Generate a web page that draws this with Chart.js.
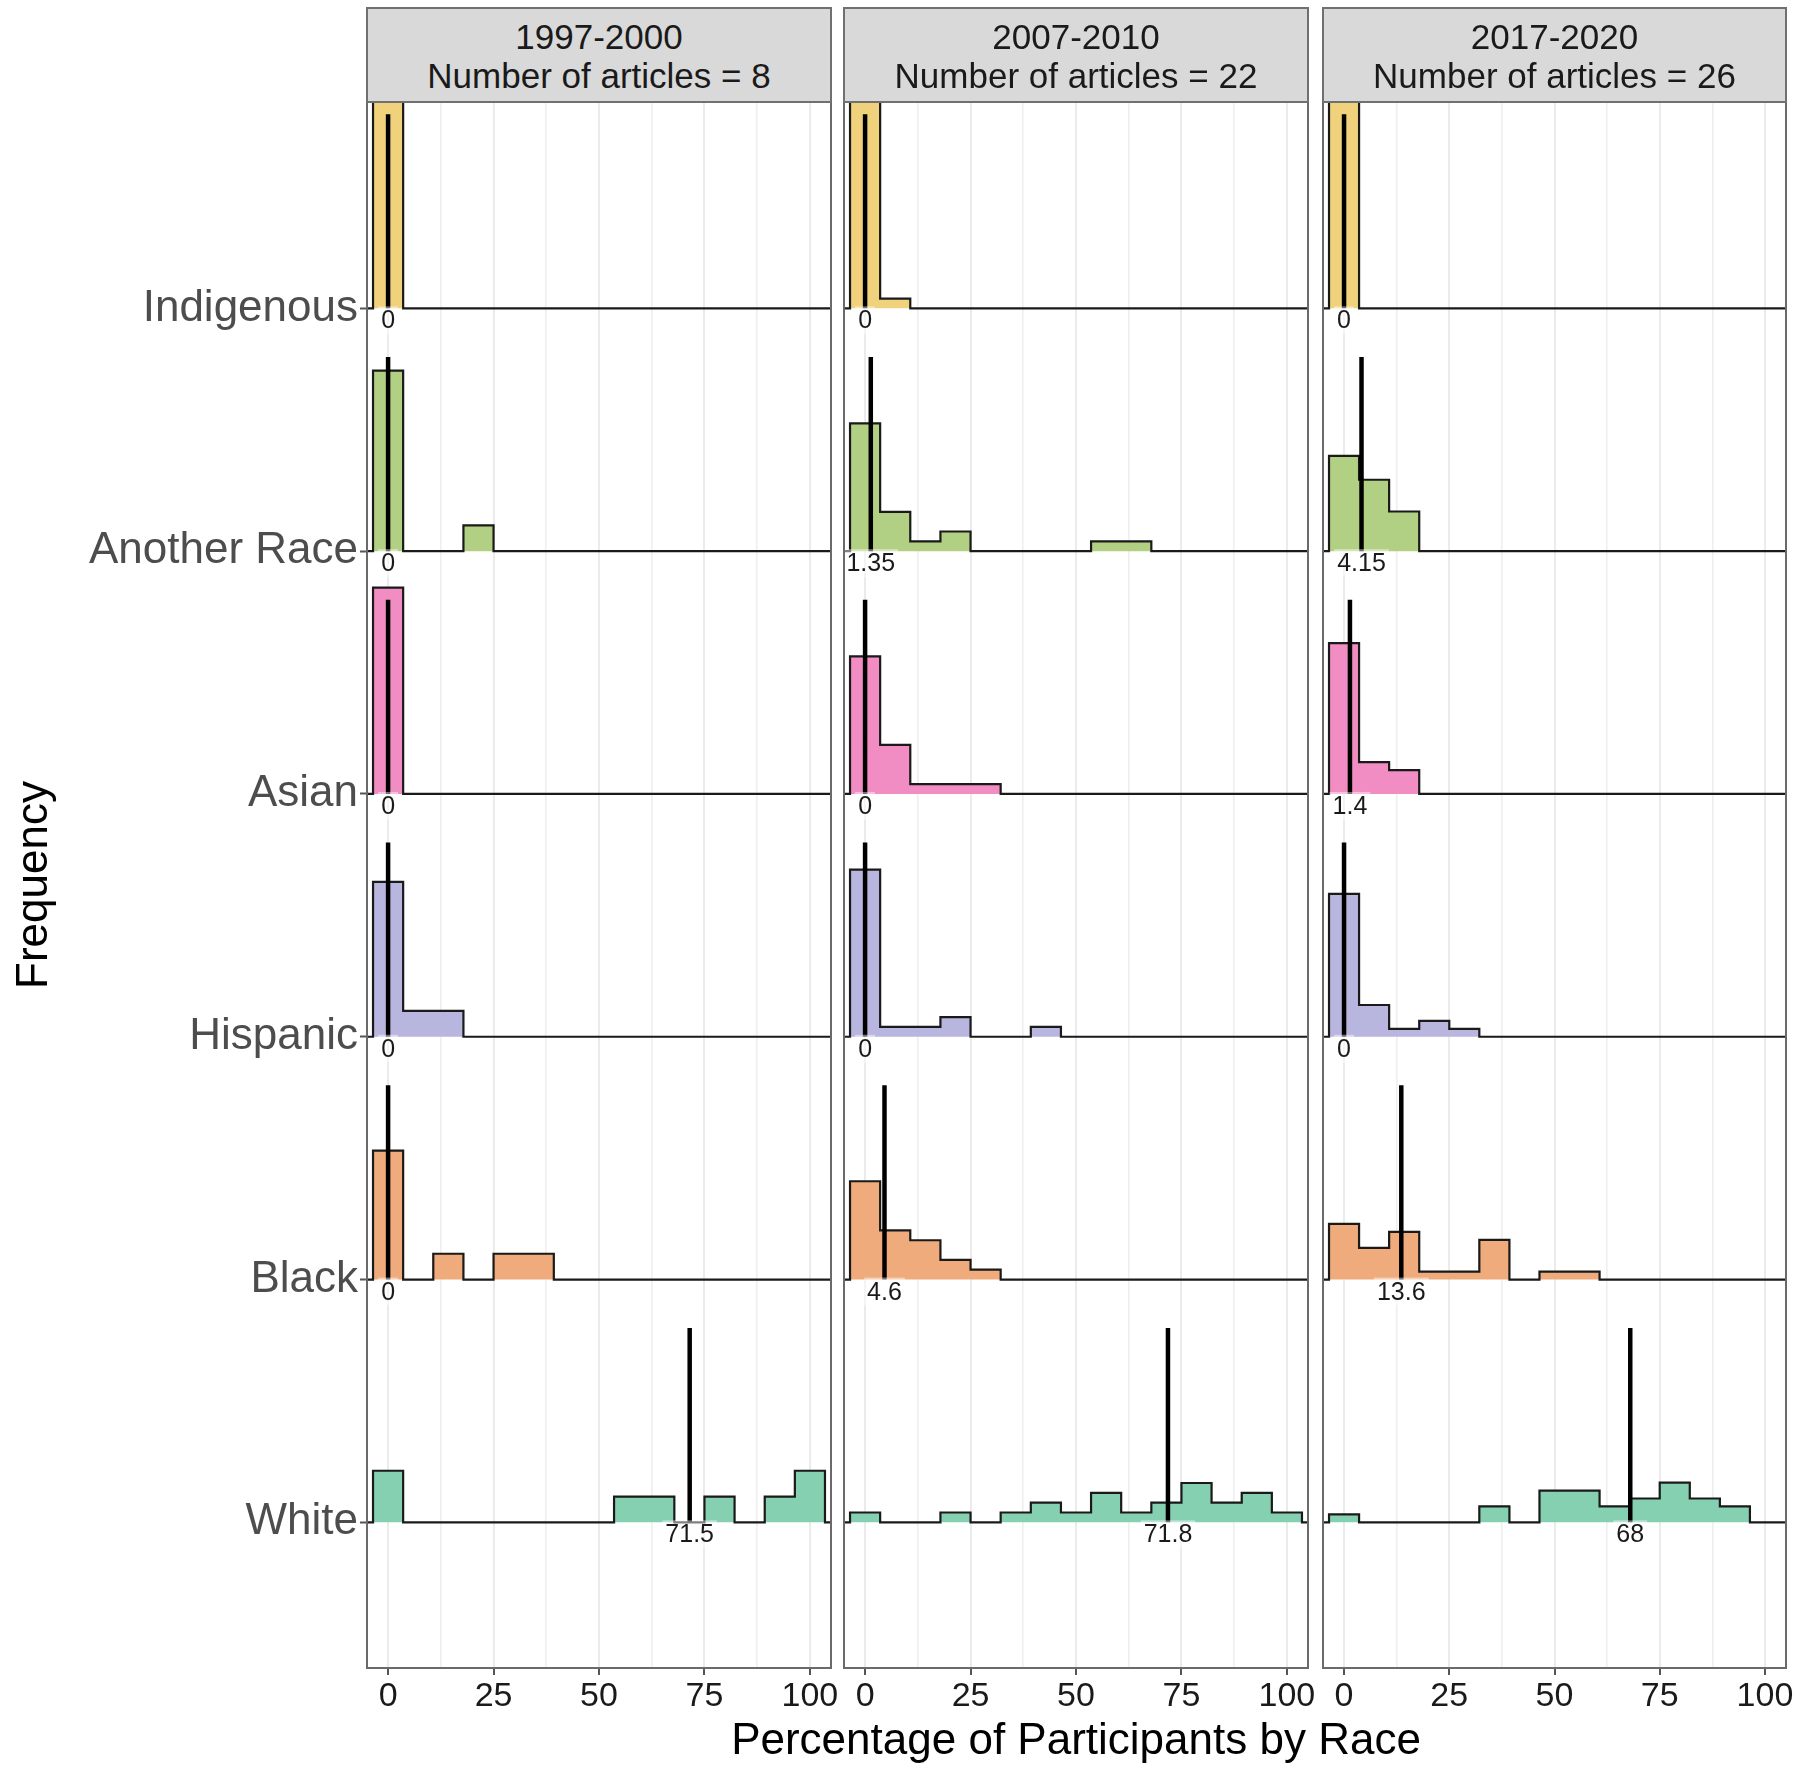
<!DOCTYPE html>
<html>
<head>
<meta charset="utf-8">
<script src="https://cdn.jsdelivr.net/npm/chart.js@4.4.1/dist/chart.umd.min.js"></script>
<style>
  html, body { margin: 0; padding: 0; background: #ffffff; }
  body { width: 1800px; height: 1772px; position: relative; overflow: hidden;
         font-family: "Liberation Sans", Arial, Helvetica, sans-serif; }
  canvas.cv { position: absolute; top: 90px; }
  .strip { position: absolute; top: 7px; height: 96px; box-sizing: border-box;
           border: 2px solid #707070; background: #d9d9d9; color: #1a1a1a;
           font-size: 35px; line-height: 39px; text-align: center; padding-top: 8px;
           white-space: nowrap; }
  #xtitle { position: absolute; top: 1713px; height: 52px; line-height: 52px; width: 1000px;
            font-size: 44px; color: #000000; text-align: center; white-space: nowrap; }
</style>
</head>
<body>
<canvas id="c0" class="cv" width="840" height="1682" style="left:0px"></canvas>
<canvas id="c1" class="cv" width="480" height="1682" style="left:835px"></canvas>
<canvas id="c2" class="cv" width="488" height="1682" style="left:1312px"></canvas>
<div id="xtitle"></div>
<script>
// ---------------- DATA ----------------
const periods = ["1997-2000", "2007-2010", "2017-2020"];
const articleCounts = [8, 22, 26];
// rows from bottom (y = 1) to top (y = 6)
const races = ["White", "Black", "Hispanic", "Asian", "Another Race", "Indigenous"];
const raceColors = ["#86d0b2", "#efab7b", "#b8b5df", "#f18dc2", "#b2d084", "#f0d27d"];
// histogram bin edges (percentage), 15 bins
const binEdges = [-3.57, 3.57, 10.71, 17.86, 25, 32.14, 39.29, 46.43, 53.57, 60.71, 67.86, 75, 82.14, 89.29, 96.43, 103.57];
const majorTickValues = [0, 25, 50, 75, 100];
const majorTickLabels = ["0", "25", "50", "75", "100"];
const minorTickValues = [12.5, 37.5, 62.5, 87.5];

// article counts per bin (rows follow `races`)
const countsP1 = [
  [2,0,0,0,0,0,0,0,1,1,0,1,0,1,2],
  [5,0,1,0,1,1,0,0,0,0,0,0,0,0,0],
  [6,1,1,0,0,0,0,0,0,0,0,0,0,0,0],
  [8,0,0,0,0,0,0,0,0,0,0,0,0,0,0],
  [7,0,0,1,0,0,0,0,0,0,0,0,0,0,0],
  [8,0,0,0,0,0,0,0,0,0,0,0,0,0,0]
];
const countsP2 = [
  [1,0,0,1,0,1,2,1,3,1,2,4,2,3,1],
  [10,5,4,2,1,0,0,0,0,0,0,0,0,0,0],
  [17,1,1,2,0,0,1,0,0,0,0,0,0,0,0],
  [14,5,1,1,1,0,0,0,0,0,0,0,0,0,0],
  [13,4,1,2,0,0,0,0,1,1,0,0,0,0,0],
  [21,1,0,0,0,0,0,0,0,0,0,0,0,0,0]
];
const countsP3 = [
  [1,0,0,0,0,2,0,4,4,2,3,5,3,2,0],
  [7,4,6,1,1,5,0,1,1,0,0,0,0,0,0],
  [18,4,1,2,1,0,0,0,0,0,0,0,0,0,0],
  [19,4,3,0,0,0,0,0,0,0,0,0,0,0,0],
  [12,9,5,0,0,0,0,0,0,0,0,0,0,0,0],
  [26,0,0,0,0,0,0,0,0,0,0,0,0,0,0]
];
const mediansP1 = [71.5, 0, 0, 0, 0, 0];
const mediansP2 = [71.8, 4.6, 0, 0, 1.35, 0];
const mediansP3 = [68, 13.6, 0, 1.4, 4.15, 0];

const xTitle = "Percentage of Participants by Race";
const yTitle = "Frequency";

// ---------------- STYLE / LAYOUT ----------------
const FONT = '"Liberation Sans", Arial, Helvetica, sans-serif';
Chart.defaults.font.family = FONT;
const RIDGE_SCALE = 0.85;   // tallest bin in a panel, in row units
const MEDIAN_HEIGHT = 0.8;  // height of median segment, in row units
const X_MIN = -5, X_MAX = 105, Y_MIN = 0.4, Y_MAX = 6.85;
const PAD_LEFT_X = -10.71, PAD_RIGHT_X = 110.71;
const panelLayout = [
  { left: 0,    padL: 0,  padR: 9 },
  { left: 835,  padL: 9,  padR: 7 },
  { left: 1312, padL: 11, padR: 14 }
];

const panelBorder = {
  id: 'panelBorder',
  afterDraw(chart) {
    const { ctx, chartArea: a } = chart;
    ctx.save();
    ctx.strokeStyle = '#6a6a6a';
    ctx.lineWidth = 2;
    ctx.strokeRect(a.left, a.top, a.right - a.left, a.bottom - a.top);
    ctx.restore();
  }
};

const medianLabels = {
  id: 'medianLabels',
  afterDatasetsDraw(chart, args, opts) {
    const { ctx } = chart;
    const xs = chart.scales.x, ys = chart.scales.y;
    const vals = opts.values || [];
    ctx.save();
    ctx.font = '25px ' + FONT;
    ctx.textAlign = 'center';
    ctx.textBaseline = 'alphabetic';
    vals.forEach((m, r) => {
      const txt = String(m);
      const px = xs.getPixelForValue(m);
      const py = ys.getPixelForValue(r + 1);
      const w = ctx.measureText(txt).width;
      ctx.fillStyle = 'rgba(255,255,255,0.45)';
      ctx.fillRect(px - w / 2 - 3, py - 2, w + 6, 28);
      ctx.fillStyle = '#1a1a1a';
      ctx.fillText(txt, px, py + 20);
    });
    ctx.restore();
  }
};

function makePanel(idx, counts, medians) {
  const panelMax = Math.max(...counts.flat());
  const datasets = [];
  races.forEach((race, r) => {
    const base = r + 1;
    const pts = [{ x: PAD_LEFT_X, y: base }];
    counts[r].forEach((c, k) => pts.push({ x: binEdges[k], y: base + RIDGE_SCALE * c / panelMax }));
    pts.push({ x: binEdges[binEdges.length - 1], y: base });
    pts.push({ x: PAD_RIGHT_X, y: base });
    datasets.push({
      label: race,
      data: pts,
      stepped: true,
      borderColor: '#1a1a1a',
      borderWidth: 2.2,
      backgroundColor: raceColors[r],
      fill: { value: base },
      pointRadius: 0,
      order: 10 + r
    });
  });
  medians.forEach((m, r) => {
    const base = r + 1;
    datasets.push({
      label: races[r] + ' median',
      data: [{ x: m, y: base }, { x: m, y: base + MEDIAN_HEIGHT }],
      borderColor: '#000000',
      borderWidth: 4.5,
      borderCapStyle: 'butt',
      pointRadius: 0,
      fill: false,
      order: 0
    });
  });

  const lay = panelLayout[idx];
  const allTicks = majorTickValues.concat(minorTickValues).sort((a, b) => a - b);
  const isMajor = v => majorTickValues.indexOf(v) >= 0;

  const chart = new Chart(document.getElementById('c' + idx), {
    type: 'line',
    data: { datasets },
    plugins: [medianLabels, panelBorder],
    options: {
      responsive: false,
      animation: false,
      devicePixelRatio: 1,
      events: [],
      layout: { padding: { top: 12, bottom: 6, left: lay.padL, right: lay.padR } },
      plugins: {
        legend: { display: false },
        tooltip: { enabled: false },
        medianLabels: { values: medians }
      },
      scales: {
        x: {
          type: 'linear', min: X_MIN, max: X_MAX,
          afterBuildTicks: s => { s.ticks = allTicks.map(v => ({ value: v })); },
          afterFit: s => { s.height = 98; s.paddingLeft = 0; s.paddingRight = 0; },
          ticks: {
            autoSkip: false, maxRotation: 0, minRotation: 0, padding: 1,
            color: '#1a1a1a', font: { size: 34 },
            callback: v => { const i = majorTickValues.indexOf(v); return i >= 0 ? majorTickLabels[i] : ''; }
          },
          grid: {
            color: c => isMajor(c.tick.value) ? '#ebebeb' : '#efefef',
            lineWidth: c => isMajor(c.tick.value) ? 2 : 1.6,
            tickLength: 7,
            tickWidth: 2,
            tickColor: c => isMajor(c.tick.value) ? '#555555' : 'rgba(0,0,0,0)'
          },
          border: { display: false },
          title: { display: false }
        },
        y: {
          type: 'linear', min: Y_MIN, max: Y_MAX, display: idx === 0,
          afterBuildTicks: s => { s.ticks = races.map((_, r) => ({ value: r + 1 })); },
          afterFit: s => { s.width = (idx === 0) ? 367 : 0; s.paddingTop = 0; s.paddingBottom = 0; },
          ticks: {
            autoSkip: false, padding: 2, color: '#4d4d4d', font: { size: 44 },
            callback: v => races[Math.round(v) - 1]
          },
          grid: { drawOnChartArea: false, tickLength: 7, tickWidth: 2, tickColor: '#555555' },
          border: { display: false },
          title: {
            display: idx === 0, text: yTitle, color: '#000000',
            font: { size: 44 }, padding: { top: 8, bottom: 0 }
          }
        }
      }
    }
  });

  // facet strip above the panel
  const a = chart.chartArea;
  const strip = document.createElement('div');
  strip.className = 'strip';
  strip.style.left = (lay.left + a.left - 1) + 'px';
  strip.style.width = (a.right - a.left + 2) + 'px';
  strip.style.top = (90 + a.top - 95) + 'px';
  strip.innerHTML = periods[idx] + '<br>Number of articles = ' + articleCounts[idx];
  document.body.appendChild(strip);
  return chart;
}

makePanel(0, countsP1, mediansP1);
const midChart = makePanel(1, countsP2, mediansP2);
makePanel(2, countsP3, mediansP3);

// shared x-axis title, centred under the middle panel
const xt = document.getElementById('xtitle');
xt.textContent = xTitle;
const ma = midChart.chartArea;
xt.style.left = (panelLayout[1].left + (ma.left + ma.right) / 2 - 500) + 'px';
</script>
</body>
</html>
